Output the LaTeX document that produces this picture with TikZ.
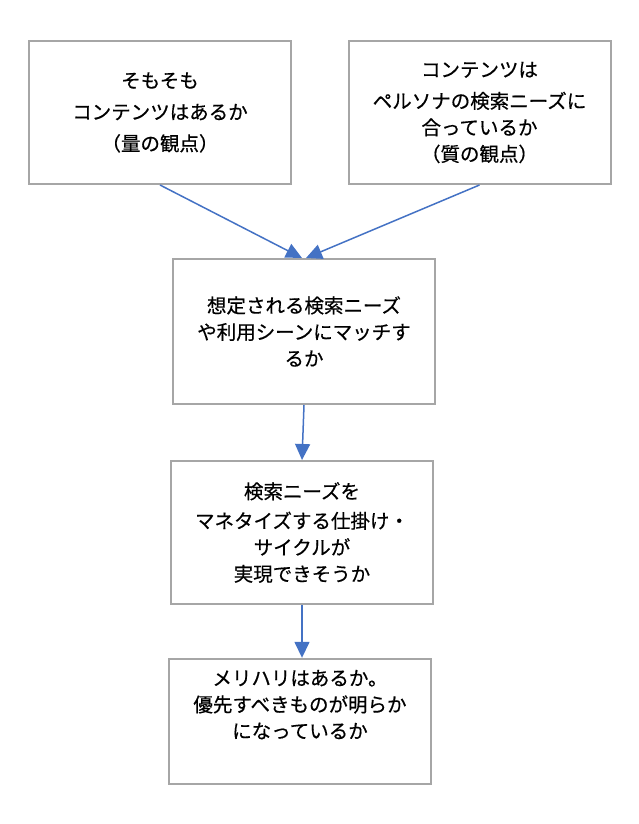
\documentclass[tikz,border=0pt]{standalone}
\usepackage{fontspec}
\setmainfont{Noto Sans CJK JP}[FakeBold=0.5]
\usepackage{tikz}
\usetikzlibrary{arrows.meta,positioning}
\definecolor{boxline}{HTML}{A6A6A6}
\definecolor{flowblue}{HTML}{4472C4}
\definecolor{ink}{HTML}{000000}
\tikzset{
  every node/.style={font=\fontsize{19.5pt}{26.5pt}\selectfont,text=ink},
  qbox/.style={draw=boxline,line width=2pt,fill=white,align=center,inner sep=4pt,minimum width=262pt},
  flow/.style={-{Triangle[length=16pt,width=15pt]},line width=1.5pt,draw=flowblue}
}

\begin{document}
\begin{tikzpicture}[x=1pt,y=-1pt]
  \useasboundingbox (0,0) rectangle (638,824);
  \node[qbox,minimum height=143pt] (amount) at (160,112.5) {そもそも\\[5pt]コンテンツはあるか\\[5pt]（量の観点）};
  \node[qbox,minimum height=143pt] (quality) at (479.5,112.5) {コンテンツは\\[5pt]ペルソナの検索ニーズに\\合っているか\\（質の観点）};
  \node[qbox,minimum height=145pt] (match) at (304,331.5) {想定される検索ニーズ\\や利用シーンにマッチす\\るか};
  \node[qbox,minimum height=143pt] (monetize) at (302,532.5) {検索ニーズを\\[3pt]マネタイズする仕掛け・\\サイクルが\\実現できそうか};
  \node[qbox,minimum height=125pt] (focus) at (300,721.3) {メリハリはあるか。\\優先すべきものが明らか\\になっているか\\\strut};

  \draw[flow] (amount.south)--([xshift=-2pt]match.north);
  \draw[flow] (quality.south)--([xshift=2pt]match.north);
  \draw[flow] (match.south)--(monetize.north);
  \draw[flow] (monetize.south)--(monetize.south |- focus.north);
\end{tikzpicture}
\end{document}
